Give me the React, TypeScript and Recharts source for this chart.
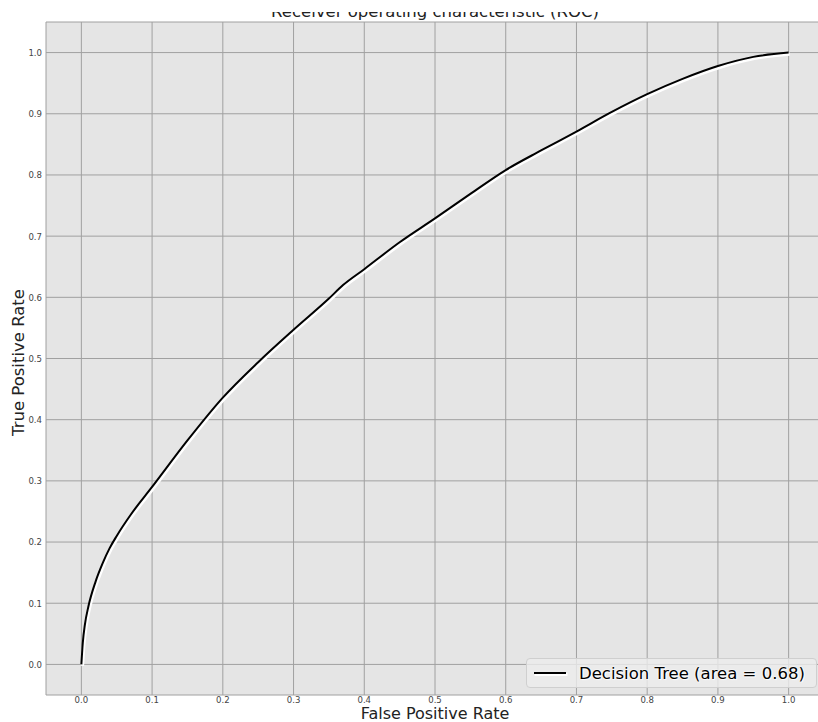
import React from 'react';
import { LineChart, Line, XAxis, YAxis, CartesianGrid, Legend, Label } from 'recharts';

const fprValues = [0, 0.002, 0.005, 0.01, 0.02, 0.03, 0.04, 0.05, 0.07, 0.1, 0.15, 0.2, 0.25, 0.3, 0.35, 0.37, 0.4, 0.45, 0.5, 0.55, 0.6, 0.65, 0.7, 0.75, 0.8, 0.85, 0.9, 0.95, 1.0];
const tprValues = [0, 0.035, 0.065, 0.095, 0.135, 0.165, 0.19, 0.21, 0.245, 0.29, 0.366, 0.436, 0.494, 0.547, 0.598, 0.62, 0.646, 0.69, 0.729, 0.769, 0.808, 0.84, 0.871, 0.903, 0.932, 0.957, 0.978, 0.993, 1.0];
const tickValues = [0, 0.1, 0.2, 0.3, 0.4, 0.5, 0.6, 0.7, 0.8, 0.9, 1.0];
const titleText = 'Receiver operating characteristic (ROC)';
const xLabel = 'False Positive Rate';
const yLabel = 'True Positive Rate';
const seriesName = 'Decision Tree (area = 0.68)';

const data = fprValues.map((f, i) => ({ fpr: f, tpr: tprValues[i] }));

const FONT = '"DejaVu Sans", sans-serif';
const TICK_FONT = '"DejaVu Sans Condensed", "DejaVu Sans", sans-serif';

const LegendBox = () => (
  <div
    style={{
      boxSizing: 'border-box',
      width: 291,
      height: 30,
      border: '1px solid #cfcfcf',
      borderRadius: 4,
      background: 'rgba(236,236,236,0.8)',
      display: 'flex',
      alignItems: 'center',
      fontFamily: FONT,
      fontSize: 16.5,
      color: '#000',
    }}
  >
    <div style={{ width: 7 }} />
    <div style={{ width: 32, height: 2, background: '#000', boxShadow: '1px 1.5px 0 0.5px #fff' }} />
    <div style={{ width: 13 }} />
    <span style={{ whiteSpace: 'nowrap', textShadow: '0 0 2px #fff, 0 0 2px #fff, 1px 1px 1px #fff' }}>{seriesName}</span>
  </div>
);

export default function App() {
  return (
    <div style={{ position: 'absolute', left: 0, top: 0, width: 818, height: 722, overflow: 'hidden', background: '#fff' }}>
      <style>{`.roc-shadow { transform: translate(1px, 1.5px); }`}</style>
      <LineChart width={824} height={722} data={data} margin={{ top: 22, right: 0, bottom: 0, left: 0 }}>
        <CartesianGrid fill="#e5e5e5" stroke="#a0a0a0" strokeWidth={1} />
        <XAxis
          dataKey="fpr"
          type="number"
          domain={[-0.05, 1.05]}
          ticks={tickValues}
          tickFormatter={(v: number) => v.toFixed(1)}
          axisLine={false}
          tickLine={false}
          tickSize={0}
          tickMargin={1}
          height={27}
          tick={{ fill: '#444', fontSize: 9.5, fontFamily: TICK_FONT }}
        >
          <Label value={xLabel} position="insideBottom" offset={3} style={{ fontFamily: FONT, fontSize: 16, fill: '#222' }} />
        </XAxis>
        <YAxis
          type="number"
          domain={[-0.05, 1.05]}
          ticks={tickValues}
          tickFormatter={(v: number) => v.toFixed(1)}
          axisLine={false}
          tickLine={false}
          tickSize={0}
          tickMargin={4}
          width={46}
          tick={{ fill: '#444', fontSize: 9.5, fontFamily: TICK_FONT }}
        >
          <Label
            content={(props: any) => {
              const vb = props.viewBox || { y: 22, height: 673 };
              const cy = vb.y + vb.height / 2;
              return (
                <text
                  x={0}
                  y={0}
                  transform={`translate(18, ${cy + 4}) rotate(-90)`}
                  textAnchor="middle"
                  dominantBaseline="central"
                  style={{ fontFamily: FONT, fontSize: 16.5, fill: '#222' }}
                >
                  {yLabel}
                </text>
              );
            }}
          />
        </YAxis>
        <Line
          className="roc-shadow"
          dataKey="tpr"
          type="monotone"
          stroke="#ffffff"
          strokeWidth={3.5}
          dot={false}
          activeDot={false}
          isAnimationActive={false}
          legendType="none"
        />
        <Line
          dataKey="tpr"
          type="monotone"
          stroke="#000000"
          strokeWidth={2}
          dot={false}
          activeDot={false}
          isAnimationActive={false}
          name={seriesName}
        />
        <Legend
          layout="horizontal"
          verticalAlign="middle"
          align="center"
          content={() => <LegendBox />}
          wrapperStyle={{ left: 526, top: 658, width: 291, height: 30 }}
        />
      </LineChart>
      <div style={{ position: 'absolute', left: 0, top: 12, width: 870, height: 10, overflow: 'hidden' }}>
        <div
          style={{
            position: 'absolute',
            left: 0,
            top: -9.7,
            width: 870,
            textAlign: 'center',
            fontFamily: FONT,
            fontSize: 16.5,
            lineHeight: '20px',
            color: '#222',
            whiteSpace: 'nowrap',
          }}
        >
          {titleText}
        </div>
      </div>
    </div>
  );
}
